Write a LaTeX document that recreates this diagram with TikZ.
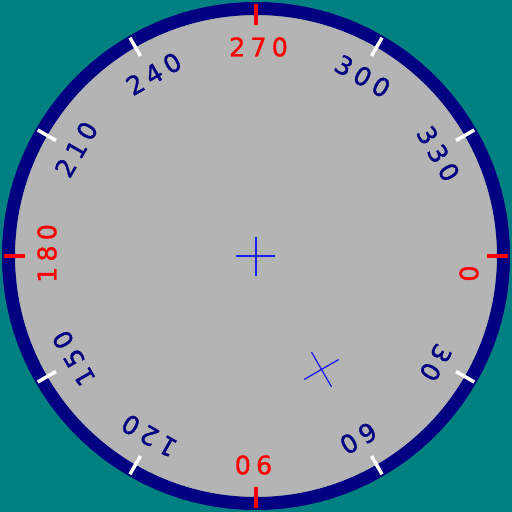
\documentclass[tikz,border=0pt]{standalone}
\usepackage{fontspec}
\newfontfamily\lblfont[LetterSpace=20,FakeBold=1.2]{DejaVu Sans}
\definecolor{bgteal}{RGB}{0,128,128}
\definecolor{ringnavy}{RGB}{0,0,128}
\definecolor{dialgray}{RGB}{180,180,180}
\definecolor{crossblue}{RGB}{30,30,240}
\newcommand\dialtext[1]{#1\kern-5.1pt}
\tikzset{
  lbl/.style={inner sep=0pt, font=\lblfont\fontsize{25.5}{25.5}\selectfont},
  ticka/.style={line width=3.5pt},
  crossline/.style={draw=crossblue, line width=1.3pt}
}
\begin{document}
\begin{tikzpicture}[x=1pt,y=1pt]
\fill[bgteal] (-256,-256) rectangle (256,256);
\useasboundingbox (-256,-256) rectangle (256,256);
\draw[ringnavy, line width=13pt, fill=dialgray] (0,0) circle (247.5);
% ticks
\foreach \a in {30,60,120,150,210,240,300,330}
  \draw[white, ticka] (-\a:231) -- (-\a:252);
\foreach \a in {0,90,180,270}
  \draw[red, ticka] (-\a:231) -- (-\a:252);
% labels
\foreach \a/\t/\c [count=\i] in {30/30/ringnavy, 60/60/ringnavy, 90/90/red,
   120/120/ringnavy, 150/150/ringnavy, 180/180/red,
   210/210/ringnavy, 240/240/ringnavy, 270/270/red,
   300/300/ringnavy, 330/330/ringnavy}
  \node[lbl, text=\c, rotate=-\a-90] (l\i) at (-\a:209) {\dialtext{\t}};
\node[lbl, text=red, rotate=-90] (l0) at (213,-15) {\dialtext{0}};
% crosses
\draw[crossline] (-19.5,0) -- (19.5,0) (0,-19.5) -- (0,19.5);
\begin{scope}[shift={(-60:131)}, rotate=-60]
  \draw[crossline] (-20,0) -- (20,0) (0,-20) -- (0,20);
\end{scope}
\end{tikzpicture}
\end{document}
